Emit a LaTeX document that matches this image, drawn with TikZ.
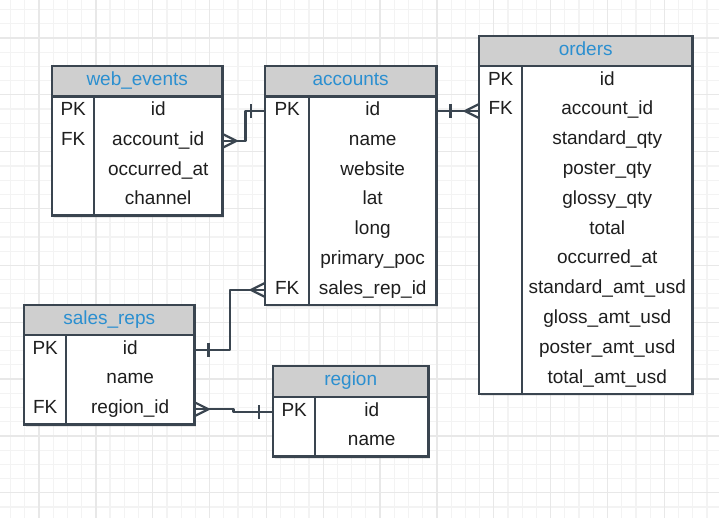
\documentclass[tikz,border=0pt]{standalone}
\usepackage{fontspec}
\setmainfont{Liberation Sans}
\usetikzlibrary{calc,shadows}

\definecolor{edgec}{HTML}{3A4550}
\definecolor{hdrfill}{HTML}{CFCFCF}
\definecolor{hdrtext}{HTML}{2B8FD0}
\definecolor{celltext}{HTML}{1E1E1E}
\definecolor{gridminor}{HTML}{F3F3F3}
\definecolor{gridmajor}{HTML}{E8E8E8}

\tikzset{
  frame/.style={fill=white, inner sep=0pt,
    drop shadow={opacity=0.18, shadow xshift=1.5bp, shadow yshift=-2.5bp}},
  hdr/.style={fill=hdrfill, text=hdrtext, inner sep=0pt,
    text height=14bp, text depth=5bp},
  cell/.style={inner sep=0pt, text=celltext, text height=14bp, text depth=5bp},
  rule/.style={draw=edgec, line width=2.4bp},
  conn/.style={draw=edgec, line width=2.2bp, line join=round},
  pics/crow/.style={code={\draw[conn] (0,-7) -- (14,0) -- (0,7);}},
  pics/onebar/.style={code={\draw[conn] (14,-7) -- (14,7);}},
}

% #1 name, #2 left, #3 top, #4 width, #5 key column width,
% #6 header height, #7 title, #8 key/field rows, #9 number of rows
\newcommand\erdtable[9]{%
  \node[frame, anchor=north west, minimum width=#4bp,
        minimum height={(#6+#9*29.8)*1bp}] (#1) at (#2,#3) {};
  \node[hdr, anchor=north west, minimum width=#4bp,
        minimum height=#6bp] (#1-h) at (#2,#3) {#7};
  \foreach \k/\f [count=\i] in {#8} {
    \node[cell, anchor=north west, minimum width=#5bp, minimum height=29.8bp]
      (#1-k\i) at ({#2},{#3+#6+(\i-1)*29.8}) {\k};
    \node[cell, anchor=north west, minimum width={(#4-#5)*1bp}, minimum height=29.8bp]
      (#1-f\i) at ({#2+#5},{#3+#6+(\i-1)*29.8}) {\f};
  }
  \draw[rule] (#1-h.south west) -- (#1-h.south east);
  \draw[rule] (#1-f1.north west) -- (#1.south -| #1-f1.west);
  \draw[rule] (#1.north west) rectangle (#1.south east);
}

\begin{document}
\begin{tikzpicture}[x=1bp, y=-1bp, font=\fontsize{19bp}{23bp}\selectfont]
  \useasboundingbox (0,0) rectangle (719,518);
  \fill[white] (0,0) rectangle (719,518);

  % background grid
  \begin{scope}
    \clip (0,0) rectangle (719,518);
    \foreach \i in {-3,...,48}
      \draw[gridminor, line width=1.2bp] ({39+\i*14.2125},0) -- ++(0,518);
    \foreach \j in {-3,...,34}
      \draw[gridminor, line width=1.2bp] (0,{38+\j*14.2125}) -- ++(719,0);
    \foreach \i in {-1,...,12}
      \draw[gridmajor, line width=1.3bp] ({39+\i*56.85},0) -- ++(0,518);
    \foreach \j in {-1,...,9}
      \draw[gridmajor, line width=1.3bp] (0,{38+\j*56.85}) -- ++(719,0);
  \end{scope}

  % tables
  \erdtable{we}{52}{66}{170}{42}{30}{web\_events}
    {PK/id, FK/account\_id, /occurred\_at, /channel}{4}
  \erdtable{ac}{265}{66}{171}{44}{30}{accounts}
    {PK/id, /name, /website, /lat, /long, /primary\_poc, FK/sales\_rep\_id}{7}
  \erdtable{or}{479}{36}{213}{43}{29.5}{orders}
    {PK/id, FK/account\_id, /standard\_qty, /poster\_qty, /glossy\_qty, /total,
     /occurred\_at, /standard\_amt\_usd, /gloss\_amt\_usd, /poster\_amt\_usd,
     /total\_amt\_usd}{11}
  \erdtable{sr}{24}{305}{170}{42}{29.5}{sales\_reps}
    {PK/id, /name, FK/region\_id}{3}
  \erdtable{rg}{273}{366}{155}{42}{30.5}{region}
    {PK/id, /name}{2}

  % relationships
  \draw[conn] (we-f2.east) -- ++(23,0) |- (ac-k1.west);
  \pic at (we-f2.east) {crow};
  \pic[rotate=180] at (ac-k1.west) {onebar};

  \coordinate (orfk) at (ac-f1.east -| or-k2.west);
  \draw[conn] (ac-f1.east) -- (orfk);
  \pic at (ac-f1.east) {onebar};
  \pic[rotate=180] at (orfk) {crow};

  \draw[conn] (ac-k7.west) -- ++(-35,0) |- (sr-f1.east);
  \pic[rotate=180] at (ac-k7.west) {crow};
  \pic at (sr-f1.east) {onebar};

  \draw[conn] (sr-f3.east) -- ++(39,0) |- (rg-k1.west);
  \pic at (sr-f3.east) {crow};
  \pic[rotate=180] at (rg-k1.west) {onebar};
\end{tikzpicture}
\end{document}
